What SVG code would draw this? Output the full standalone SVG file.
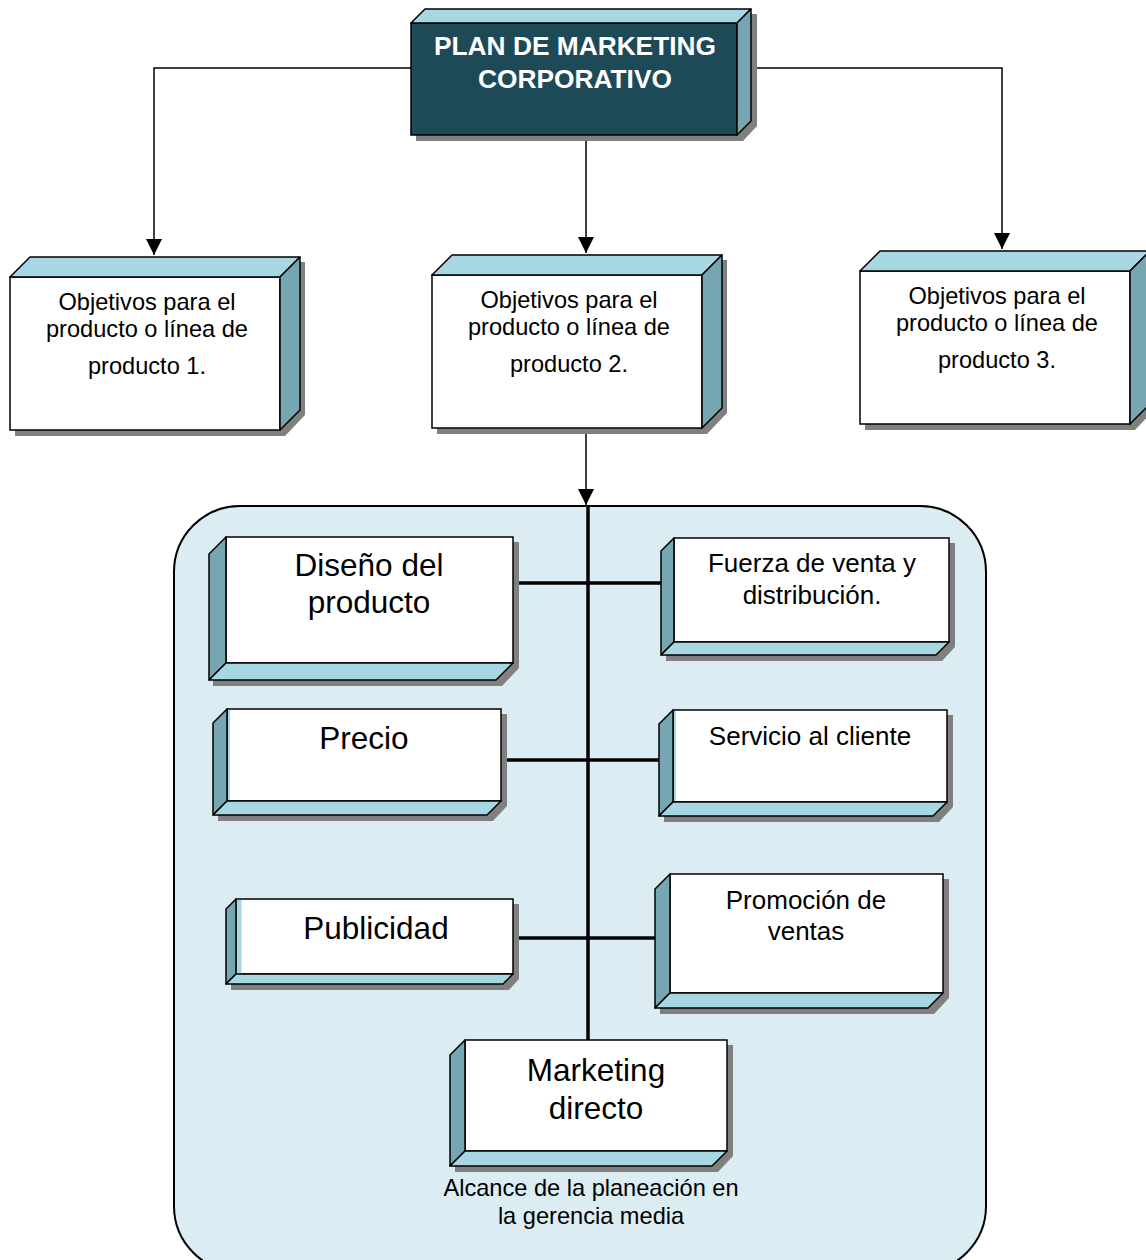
<svg xmlns="http://www.w3.org/2000/svg" width="1146" height="1260" viewBox="0 0 1146 1260">
<defs>
<style>
.sh{fill:#808080;}
.fr{fill:#ffffff;stroke:#000;stroke-width:1.5;}
.frd{fill:#1E4A57;stroke:#000;stroke-width:1.5;}
.tp{fill:#A7D7E2;stroke:#000;stroke-width:1.5;stroke-linejoin:round;}
.sd{fill:#75A6B1;stroke:#000;stroke-width:1.5;stroke-linejoin:round;}
.strip{fill:#A7D7E2;}
.t{font-family:"Liberation Sans",Arial,sans-serif;fill:#000;text-anchor:middle;}
.obj{font-size:23.6px;}
.big{font-size:31.5px;}
.mid{font-size:26px;}
.title{font-size:26.3px;font-weight:bold;fill:#fff;}
.thin{fill:none;stroke:#000;stroke-width:1.5;}
.thick{fill:none;stroke:#000;stroke-width:3.5;}
</style>
<marker id="arr" viewBox="0 0 16 16" refX="16" refY="8" markerWidth="16" markerHeight="16" markerUnits="userSpaceOnUse" orient="auto">
<path d="M0,0 L16,8 L0,16 Z" fill="#000"/>
</marker>
</defs>
<rect width="1146" height="1260" fill="#fff"/>

<g id="container">
<rect x="174" y="506" width="812" height="766" rx="66" ry="66" fill="#DBEDF3" stroke="#000" stroke-width="2"/>
</g>

<g id="connectors">
<path class="thin" d="M411,68 H154 V255" marker-end="url(#arr)"/>
<path class="thin" d="M751,68 H1002 V249" marker-end="url(#arr)"/>
<path class="thin" d="M586,135 V253" marker-end="url(#arr)"/>
<path class="thin" d="M586,430 V505" marker-end="url(#arr)"/>
<path class="thick" d="M588,507 V1040"/>
<path class="thick" d="M513,583 H672"/>
<path class="thick" d="M501,760 H660"/>
<path class="thick" d="M513,938 H656"/>
</g>

<g id="plan">
<polygon class="sh" points="416,28 430,14 757,14 757,126 743,141 416,141"/>
<rect class="frd" x="411" y="23" width="326" height="112"/>
<polygon class="tp" points="411,23 425,9 751,9 737,23"/>
<polygon class="sd" points="737,23 751,9 751,121 737,135"/>
<text class="t title" x="575" y="55">PLAN DE MARKETING</text>
<text class="t title" x="575" y="88">CORPORATIVO</text>
</g>

<g id="obj1">
<polygon class="sh" points="15,282 35,262 305,262 305,415 285,436 15,436"/>
<rect class="fr" x="10" y="277" width="270" height="153"/>
<polygon class="tp" points="10,277 30,257 300,257 280,277"/>
<polygon class="sd" points="280,277 300,257 300,410 280,430"/>
<text class="t obj" x="147" y="310">Objetivos para el</text>
<text class="t obj" x="147" y="337">producto o línea de</text>
<text class="t obj" x="147" y="374">producto 1.</text>
</g>

<g id="obj2">
<polygon class="sh" points="437,280 457,260 727,260 727,413 707,434 437,434"/>
<rect class="fr" x="432" y="275" width="270" height="153"/>
<polygon class="tp" points="432,275 452,255 722,255 702,275"/>
<polygon class="sd" points="702,275 722,255 722,408 702,428"/>
<text class="t obj" x="569" y="308">Objetivos para el</text>
<text class="t obj" x="569" y="335">producto o línea de</text>
<text class="t obj" x="569" y="372">producto 2.</text>
</g>

<g id="obj3">
<polygon class="sh" points="865,276 885,256 1155,256 1155,409 1135,430 865,430"/>
<rect class="fr" x="860" y="271" width="270" height="153"/>
<polygon class="tp" points="860,271 880,251 1150,251 1130,271"/>
<polygon class="sd" points="1130,271 1150,251 1150,404 1130,424"/>
<text class="t obj" x="997" y="304">Objetivos para el</text>
<text class="t obj" x="997" y="331">producto o línea de</text>
<text class="t obj" x="997" y="368">producto 3.</text>
</g>

<g id="diseno">
<polygon class="sh" points="231,542 519,542 519,668 502,686 213,686 213,559"/>
<rect class="fr" x="226" y="537" width="287" height="126"/>
<polygon class="sd" points="226,537 209,554 209,680 226,663"/>
<polygon class="tp" points="226,663 209,680 496,680 513,663"/>
<text class="t big" x="369" y="576">Diseño del</text>
<text class="t big" x="369" y="613">producto</text>
</g>

<g id="fuerza">
<polygon class="sh" points="679,543 955,543 955,647 942,661 666,661 666,556"/>
<rect class="fr" x="674" y="538" width="275" height="104"/>
<polygon class="sd" points="674,538 661,551 661,655 674,642"/>
<polygon class="tp" points="674,642 661,655 936,655 949,642"/>
<text class="t mid" x="812" y="572">Fuerza de venta y</text>
<text class="t mid" x="812" y="604">distribución.</text>
</g>

<g id="precio">
<polygon class="sh" points="232,714 507,714 507,806 493,821 218,821 218,728"/>
<rect class="fr" x="227" y="709" width="274" height="92"/>
<rect class="strip" x="228" y="710" width="2" height="90"/>
<polygon class="sd" points="227,709 213,723 213,815 227,801"/>
<polygon class="tp" points="227,801 213,815 487,815 501,801"/>
<text class="t big" x="364" y="749">Precio</text>
</g>

<g id="servicio">
<polygon class="sh" points="678,715 953,715 953,807 939,822 664,822 664,729"/>
<rect class="fr" x="673" y="710" width="274" height="92"/>
<rect class="strip" x="674" y="711" width="2" height="90"/>
<polygon class="sd" points="673,710 659,724 659,816 673,802"/>
<polygon class="tp" points="673,802 659,816 933,816 947,802"/>
<text class="t mid" x="810" y="745">Servicio al cliente</text>
</g>

<g id="publicidad">
<polygon class="sh" points="241,904 519,904 519,979 509,990 231,990 231,914"/>
<rect class="fr" x="236" y="899" width="277" height="75"/>
<rect class="strip" x="236.5" y="900" width="5" height="74"/>
<polygon class="sd" points="236,899 226,909 226,984 236,974"/>
<polygon class="tp" points="236,974 226,984 503,984 513,974"/>
<text class="t big" x="376" y="939">Publicidad</text>
</g>

<g id="promocion">
<polygon class="sh" points="675,879 949,879 949,998 934,1014 660,1014 660,894"/>
<rect class="fr" x="670" y="874" width="273" height="119"/>
<polygon class="sd" points="670,874 655,889 655,1008 670,993"/>
<polygon class="tp" points="670,993 655,1008 928,1008 943,993"/>
<text class="t mid" x="806" y="909">Promoción de</text>
<text class="t mid" x="806" y="940">ventas</text>
</g>

<g id="marketing">
<polygon class="sh" points="470,1045 733,1045 733,1156 718,1172 455,1172 455,1060"/>
<rect class="fr" x="465" y="1040" width="262" height="111"/>
<polygon class="sd" points="465,1040 450,1055 450,1166 465,1151"/>
<polygon class="tp" points="465,1151 450,1166 712,1166 727,1151"/>
<text class="t big" x="596" y="1081">Marketing</text>
<text class="t big" x="596" y="1119">directo</text>
</g>

<g id="caption">
<text class="t obj" x="591" y="1196">Alcance de la planeación en</text>
<text class="t obj" x="591" y="1224">la gerencia media</text>
</g>
</svg>
